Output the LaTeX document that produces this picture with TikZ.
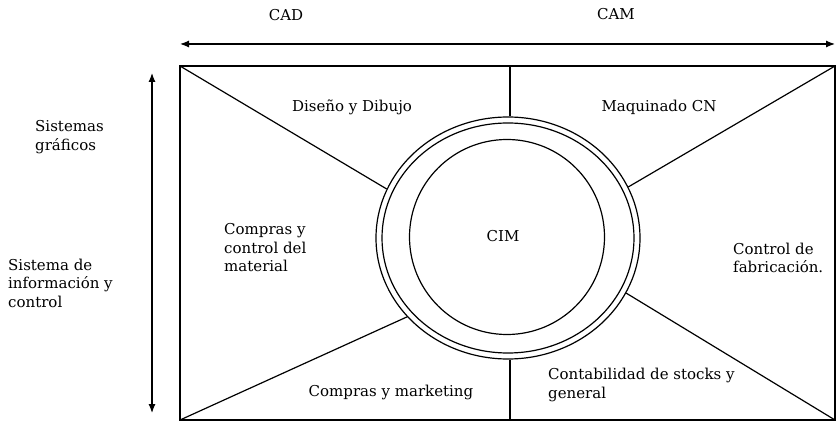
\documentclass[tikz,border=0pt]{standalone}
\usepackage{fontspec}
\setmainfont{DejaVu Serif}
\usetikzlibrary{arrows.meta,shapes.geometric}
\begin{document}
\begin{tikzpicture}[x=1pt,y=-1pt,
  ln/.style={line width=1.2pt},
  lbl/.style={font=\fontsize{15}{18.5}\selectfont, inner sep=0pt, align=left},
  ring/.style={draw, line width=1.2pt, ellipse, inner sep=0pt},
  dbl/.style={line width=1.2pt,{Latex[length=9pt,width=7pt]}-{Latex[length=9pt,width=7pt]}}]
\useasboundingbox (0,0) rectangle (836,422);
% frame
\coordinate (TL) at (180,66);
\coordinate (TR) at (835,66);
\coordinate (BR) at (835,420);
\coordinate (BL) at (180,420);
\draw[ln] (TL) -- (TR) -- (BR) -- (BL) -- cycle;
% rings
\node[ring, minimum width=264pt, minimum height=242pt] (outer) at (508,238) {};
\node[ring, minimum width=252pt, minimum height=230pt] (mid) at (508,238) {};
\node[draw, circle, line width=1.2pt, inner sep=0pt, minimum size=195pt] (inner) at (507,237) {};
% dividers
\coordinate (T) at (510,66);
\coordinate (B) at (510,420);
\draw[ln] (T) -- (T |- outer.north);
\draw[ln] (B) -- (B |- outer.south);
\draw[ln] (TL) -- (outer.158);
\draw[ln] (TR) -- (outer.23);
\draw[ln] (BL) -- (outer.218);
\draw[ln] (BR) -- (outer.335);
% arrows
\coordinate (HA) at (180,44);
\coordinate (HB) at (835,44);
\draw[dbl] (HA) -- (HB);
\coordinate (VA) at (152,73);
\coordinate (VB) at (152,413);
\draw[dbl] (VA) -- (VB);
% labels
\node[lbl] (cad) at (286,15) {CAD};
\node[lbl] (cam) at (616,14) {CAM};
\node[lbl] (dis) at (352,107) {Diseño y Dibujo};
\node[lbl] (maq) at (659,107) {Maquinado CN};
\node[lbl, anchor=west] (sg) at (35,137) {Sistemas\\gráficos};
\node[lbl, anchor=west] (sic) at (8,283) {Sistema de\\información y\\control};
\node[lbl, anchor=west] (ccm) at (224,248) {Compras y\\control del\\material};
\node[lbl] (cim) at (503,236) {CIM};
\node[lbl, anchor=west] (cf) at (733,258) {Control de\\fabricación.};
\node[lbl] (cm) at (391,392) {Compras y marketing};
\node[lbl, anchor=west] (cs) at (548,385) {Contabilidad de stocks y\\general};
\end{tikzpicture}
\end{document}
